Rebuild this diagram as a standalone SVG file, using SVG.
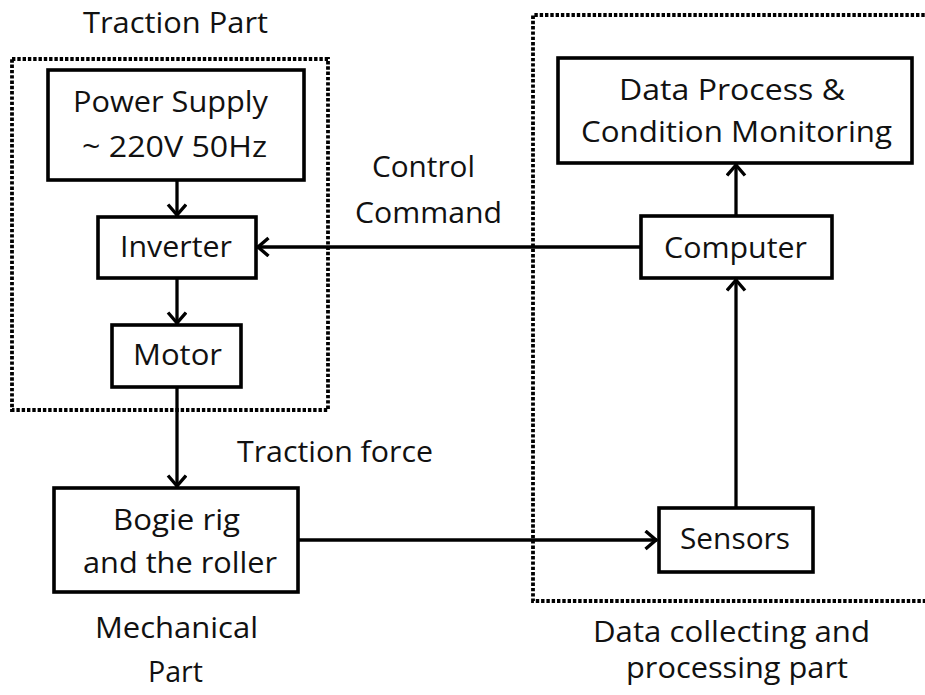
<svg xmlns="http://www.w3.org/2000/svg" width="925" height="695" viewBox="0 0 925 695">
  <style>
    text { font-family: "Open Sans", "Noto Sans", "Liberation Sans", sans-serif; font-size: 29px; fill: #111; text-anchor: middle; }
    .box { fill: #fff; stroke: #000; stroke-width: 3.6; }
    .zone { fill: none; stroke: #000; stroke-width: 3.8; stroke-dasharray: 3.4 1.9; }
    .link { fill: none; stroke: #000; stroke-width: 3.3; }
  </style>
  <defs>
    <marker id="arrow" markerUnits="userSpaceOnUse" markerWidth="24" markerHeight="24" refX="13" refY="10" orient="auto">
      <path d="M1.5 1 L12 10 L1.5 19" fill="none" stroke="#000" stroke-width="3.4"/>
    </marker>
  </defs>
  <rect width="925" height="695" fill="#fff"/>

  <!-- dotted zones -->
  <g id="zones">
    <rect class="zone" x="12" y="59" width="316" height="351"/>
    <path class="zone" d="M930 15 H533 V601 H930"/>
  </g>

  <!-- zone captions -->
  <g id="captions">
    <text x="175.5" y="33" textLength="185" lengthAdjust="spacingAndGlyphs">Traction Part</text>
    <text x="176.5" y="638" textLength="163" lengthAdjust="spacingAndGlyphs">Mechanical</text>
    <text x="175.5" y="682" textLength="55" lengthAdjust="spacingAndGlyphs">Part</text>
    <text x="731.5" y="642" textLength="277" lengthAdjust="spacingAndGlyphs">Data collecting and</text>
    <text x="737" y="678" textLength="222" lengthAdjust="spacingAndGlyphs">processing part</text>
  </g>

  <!-- connectors -->
  <g id="connectors">
    <line class="link" x1="177" y1="180" x2="177" y2="216" marker-end="url(#arrow)"/>
    <line class="link" x1="177" y1="278" x2="177" y2="324" marker-end="url(#arrow)"/>
    <line class="link" x1="177" y1="387" x2="177" y2="487" marker-end="url(#arrow)"/>
    <line class="link" x1="641" y1="247" x2="257" y2="247" marker-end="url(#arrow)"/>
    <line class="link" x1="298" y1="540" x2="657" y2="540" marker-end="url(#arrow)"/>
    <line class="link" x1="736" y1="508" x2="736" y2="279" marker-end="url(#arrow)"/>
    <line class="link" x1="736" y1="216" x2="736" y2="164" marker-end="url(#arrow)"/>
    <text x="423.5" y="177" textLength="103" lengthAdjust="spacingAndGlyphs">Control</text>
    <text x="428.5" y="223" textLength="147" lengthAdjust="spacingAndGlyphs">Command</text>
    <text x="335" y="462" textLength="196" lengthAdjust="spacingAndGlyphs">Traction force</text>
  </g>

  <g id="power-supply">
    <rect class="box" x="48" y="70" width="256" height="110"/>
    <text x="170.5" y="112" textLength="195" lengthAdjust="spacingAndGlyphs">Power Supply</text>
    <text x="174.5" y="157" textLength="185" lengthAdjust="spacingAndGlyphs">~ 220V 50Hz</text>
  </g>

  <g id="inverter">
    <rect class="box" x="98" y="217" width="158" height="61"/>
    <text x="176" y="257" textLength="112" lengthAdjust="spacingAndGlyphs">Inverter</text>
  </g>

  <g id="motor">
    <rect class="box" x="112" y="325" width="129" height="62"/>
    <text x="177.5" y="365" textLength="89" lengthAdjust="spacingAndGlyphs">Motor</text>
  </g>

  <g id="bogie-rig">
    <rect class="box" x="54" y="488" width="244" height="104"/>
    <text x="176.5" y="530" textLength="127" lengthAdjust="spacingAndGlyphs">Bogie rig</text>
    <text x="180" y="573" textLength="194" lengthAdjust="spacingAndGlyphs">and the roller</text>
  </g>

  <g id="sensors">
    <rect class="box" x="659" y="508" width="154" height="64"/>
    <text x="735" y="549" textLength="110" lengthAdjust="spacingAndGlyphs">Sensors</text>
  </g>

  <g id="computer">
    <rect class="box" x="641" y="216" width="191" height="62"/>
    <text x="735.5" y="258" textLength="143" lengthAdjust="spacingAndGlyphs">Computer</text>
  </g>

  <g id="data-process">
    <rect class="box" x="558" y="58" width="354" height="105"/>
    <text x="732" y="100" textLength="226" lengthAdjust="spacingAndGlyphs">Data Process &amp;</text>
    <text x="736.5" y="142" textLength="311" lengthAdjust="spacingAndGlyphs">Condition Monitoring</text>
  </g>
</svg>
